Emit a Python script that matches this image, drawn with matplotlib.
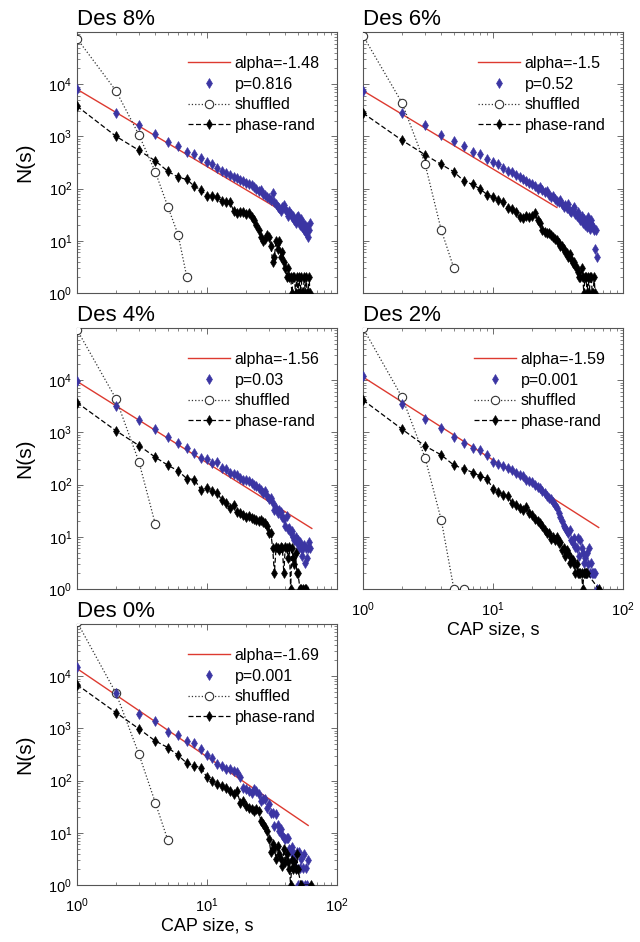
import numpy as np
import matplotlib
matplotlib.use("Agg")
from matplotlib import pyplot as plt
from matplotlib.ticker import LogLocator, NullFormatter

nan = np.nan

# ---------------------------- DATA ----------------------------
titles = ["Des 8%", "Des 6%", "Des 4%", "Des 2%", "Des 0%"]
alphas = [-1.48, -1.5, -1.56, -1.59, -1.69]
fit_amp = [8000, 7500, 9500, 11500, 14000]
fit_xmax = [36, 31, 64, 65, 60]
pvals = ["p=0.816", "p=0.52", "p=0.03", "p=0.001", "p=0.001"]

# shuffled surrogate (sizes 1,2,3,...)
shuf_8 = [75000, 7400, 1060, 210, 45, 13, 2]
shuf_6 = [85000, 4360, 300, 16, 3]
shuf_4 = [93000, 4340, 270, 17.6]
shuf_2 = [100000, 4700, 330, 21, 1, 1]
shuf_0 = [110000, 4670, 318, 38, 7.2]

# data (blue diamonds), sizes 1..N
data_8 = [8100, 2800, 1650, 1100, 790, 650, 500, 460, 380, 320,
          290, 250, 215, 200, 185, 170, 160, 145, 140, 130,
          120, 115, 105, 100, 90, 95, 80, 75, 70, 65,
          60, 84, 55, 50, 45, 42, 38, 45, 48, 40,
          35, 30, 38, 32, 28, 30, 25, 22, 28, 30,
          24, 20, 26, 18, 22, 16, 20, 14, 18, 12,
          16, 22]
data_6 = [7550, 2800, 1670, 1080, 800, 660, 495, 465, 370, 330,
          290, 250, 215, 205, 185, 165, 150, 140, 130, 120,
          110, 100, 105, 95, 85, 90, 75, 70, 72, 62,
          58, 55, 60, 50, 45, 48, 42, 50, 38, 35,
          40, 45, 33, 30, 36, 28, 25, 30, 22, 26,
          20, 24, 18, 28, 22, 17, 25, 20, 18, 16,
          7, 16, 5]
data_4 = [9500, 3240, 1740, 1150, 830, 640, 500, 400, 320, 310,
          260, 270, 210, 195, 170, 160, 150, 135, 125, 120,
          115, 105, 100, 95, 85, 80, 70, 75, 60, 52,
          55, 45, 33, 36, 28, 33, 30, 24, 22, 16,
          25, 14, 15, 12, 13, 10, 8.7, 10, 7.5, 8.7,
          6, 8, 6, 4.2, 6, 7, 3.1, 6, 4, 6,
          8, 6]
data_2 = [12000, 3480, 1790, 1240, 830, 640, 500, 460, 365, 270,
          250, 225, 210, 190, 170, 155, 145, 125, 117, 110,
          100, 90, 85, 75, 68, 60, 55, 52, 46, 41,
          36, 28, 24, 20, 16, 15, 13, 12, 13.6, 8.8,
          7.6, 9.5, 6.5, 6, 9.5, 4.2, 8.8, 6, 5, 3.1,
          4, 2, 5, 3, 6.1, 2, 3.2, 2, 2, 2,
          2, nan, 1]
data_0 = [15100, 4670, 1900, 1390, 850, 740, 575, 535, 400, 310,
          275, 205, 190, 170, 165, 150, 143, 115, 73, 68,
          63, 58, 68, 62, 55, 40, 44, 44, 30, 35,
          24, 24, 13.6, 23, 14, 11, 12, 9, 8, 7.6,
          8, 8, 5, 4.2, 5.3, 3.1, 4, 2.1, 4.3, 1,
          4.2, 2.1, 3.1, 1, 2.1, 4, 1, 2.1, 1, 3]

# phase-randomized surrogate (black diamonds), sizes 1..N
prand_8 = [3800, 1000, 540, 340, 215, 165, 150, 110, 95, 72,
           72, 70, 58, 56, 55, 38, 34, 35, 36, 32,
           34, 28, 25, 20, 16, 12, 10, 11, 13, 12,
           8, 4, 5, 10, 7, 10, 5, 6, 4, 3,
           2, 3, 2, 2, 1, 2, 2, 1, 2, 1,
           2, 1, 2, 1, 1, 2, 1, 2, 1, 1,
           2, 1]
prand_6 = [2800, 840, 445, 290, 210, 138, 120, 97, 77, 69,
           61, 55, 42, 40, 35, 28, 27, 30, 29, 30,
           34, 25, 22, 16, 15, 14, 14, 13, 12, 11,
           10.5, 9, 8, 7.8, 7, 6, 5.8, 5, 5.5, 4.5,
           3.8, 4, 3.3, 3, 2.5, 2, 2, 3, 2, 1,
           2, 2, 1, 2, 1, 2, 2, 1, 1, 2,
           1]
prand_4 = [3730, 1070, 560, 335, 235, 183, 130, 125, 79, 85,
           74, 70, 50, 44, 35, 41, 30, 28, 26, 24,
           25, 23, 22, 21, 20, 21, 19, 18, 16, 12,
           11.7, 6, 2, 6.5, 6, 5.5, 6.5, 6, 2, 6.5,
           6, 4, 6.5, 1, 6, 4, 3, 5, 2, 2,
           nan, 1, 1, nan, 1, nan, 1, 1]
prand_2 = [4170, 1150, 550, 370, 235, 200, 170, 145, 130, 83,
           72, 64, 61, 44, 41, 36, 33, 38, 28, 26,
           22, 20, 18, 16, 13.6, 12, 11.8, 9, 10, 8.8,
           10, 7.6, 8, 5.6, 6, 4.2, 5.6, 5, 3.1, 4,
           3.6, 3, 2, 3, 2, 2, 2, 2, 1, 2,
           2, 2, 2, nan, nan, nan, nan, nan, nan, nan,
           nan, nan, nan, nan, 1]
prand_0 = [6900, 2000, 980, 575, 430, 305, 215, 190, 177, 115,
           98, 85, 78, 71, 63, 55, 63, 38, 41, 33,
           30, 28, 26, 28, 26, 17, 14.6, 12.7, 11, 7.6,
           4.3, 6, 5.2, 3.1, 5.6, 3.9, 3.1, 2.3, 4.9, 2.7,
           3.9, 2.7, 2, 1, 3, 2, 2.7, 2, 3.9, 2,
           nan, nan, 1, nan, nan, nan, nan, nan, nan, nan,
           nan, nan, 1]

shuffled = [shuf_8, shuf_6, shuf_4, shuf_2, shuf_0]
datas = [data_8, data_6, data_4, data_2, data_0]
prands = [prand_8, prand_6, prand_4, prand_2, prand_0]

# ---------------------------- PLOT ----------------------------
plt.rcParams['font.family'] = ['Liberation Sans', 'DejaVu Sans']
plt.rcParams['mathtext.fontset'] = 'custom'
plt.rcParams['mathtext.rm'] = 'Liberation Sans'

fig = plt.figure(figsize=(6.4, 9.42), dpi=100)

W, H = 640.0, 942.0
lefts = [77, 363]
tops = [32, 328, 624]
aw, ah = 260, 261
positions = [(0, 0), (1, 0), (0, 1), (1, 1), (0, 2)]

blue = '#3b35a3'
red = '#dd3a30'

def xy(vals):
    x = np.arange(1, len(vals) + 1, dtype=float)
    y = np.array(vals, dtype=float)
    m = ~np.isnan(y)
    return x[m], y[m]

for i in range(5):
    c, r = positions[i]
    ax = fig.add_axes([lefts[c] / W, 1 - (tops[r] + ah) / H, aw / W, ah / H])

    xf = np.array([1.0, fit_xmax[i]])
    ax.plot(xf, fit_amp[i] * xf ** alphas[i], '-', color=red, lw=1.0,
            label='alpha=%s' % alphas[i], zorder=2)

    x, y = xy(datas[i])
    ax.plot(x, y, 'd', color=blue, ms=4.8, mec=blue, mew=0.4, ls='none',
            label=pvals[i], zorder=4)

    x, y = xy(shuffled[i])
    ax.plot(x, y, ':', color='#333333', lw=0.9, marker='o', ms=6,
            mfc='white', mec='#333333', mew=0.8, label='shuffled', zorder=3)

    x, y = xy(prands[i])
    ax.plot(x, y, '--', dashes=(4, 2), color='black', lw=0.9, marker='d',
            ms=4.8, mfc='black', mec='black', mew=0.4, label='phase-rand',
            zorder=5)

    ax.set_xscale('log')
    ax.set_yscale('log')
    ax.set_xlim(1, 100)
    ax.set_ylim(1, 1e5)
    ax.set_yticks([1, 10, 100, 1000, 1e4])
    ax.set_xticks([1, 10, 100])
    ax.yaxis.set_minor_locator(LogLocator(base=10, subs=np.arange(2, 10), numticks=20))
    ax.xaxis.set_minor_locator(LogLocator(base=10, subs=np.arange(2, 10), numticks=20))
    ax.yaxis.set_minor_formatter(NullFormatter())
    ax.xaxis.set_minor_formatter(NullFormatter())
    ax.tick_params(which='both', direction='in', top=True, right=True,
                   labelsize=10.5, color='#555555')
    ax.tick_params(which='major', length=4, width=0.6)
    ax.tick_params(which='minor', length=2, width=0.5)
    for sp in ax.spines.values():
        sp.set_color('#555555')
        sp.set_linewidth(0.8)

    if c == 0:
        ax.set_ylabel('N(s)', fontsize=15, labelpad=10)
    else:
        ax.tick_params(labelleft=False)
    if i in (3, 4):
        ax.set_xlabel('CAP size, s', fontsize=13, labelpad=2)
        ax.tick_params(axis='x', pad=8)
    else:
        ax.tick_params(labelbottom=False)

    ax.set_title(titles[i], loc='left', fontsize=16, pad=5)

    ax.legend(loc='upper right', bbox_to_anchor=(0.97, 0.945), frameon=False,
              fontsize=11.5, handlelength=2.6, handletextpad=0.3,
              labelspacing=0.35, numpoints=1, borderaxespad=0.2)

fig.savefig('out.png', dpi=100)
